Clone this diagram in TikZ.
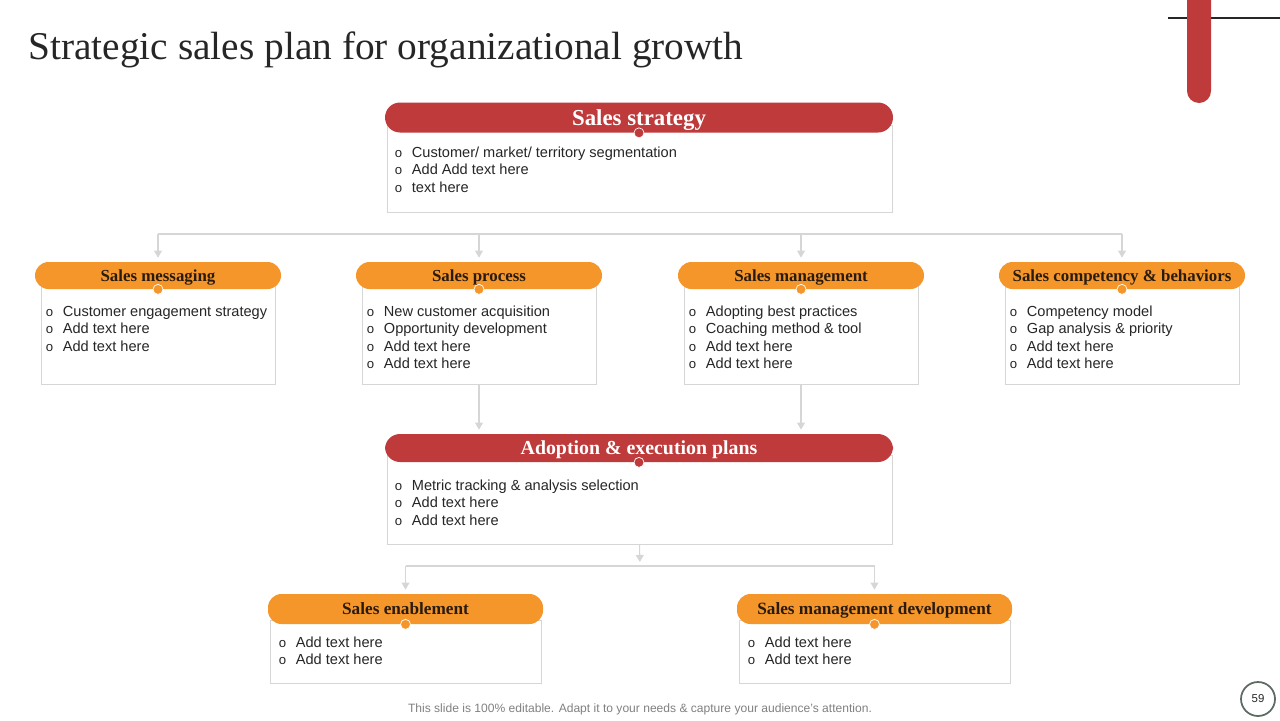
\documentclass[tikz,border=0pt]{standalone}
\usepackage{fontspec}
\setmainfont{Liberation Serif}
\setsansfont{Liberation Sans}
\usetikzlibrary{shapes,arrows.meta,positioning,fit}
\definecolor{brick}{HTML}{BE3A3B}
\definecolor{amber}{HTML}{F4962A}
\definecolor{rule}{HTML}{D6D6D6}
\definecolor{ink}{HTML}{262626}
\definecolor{umber}{HTML}{2A1B10}
\definecolor{ring}{HTML}{5E6B62}
\def \px {0.02cm}
\tikzstyle{banner} = [rectangle,rounded corners=0.3cm,fill=brick,text=white,inner sep=0,text depth=0pt,font=\bfseries\fontsize{13}{15}\selectfont,minimum width=508*\px,minimum height=30*\px]
\tikzstyle{tab} = [rectangle,rounded corners=0.27cm,fill=amber,text=umber,inner sep=0,text depth=0pt,font=\bfseries\fontsize{9.6}{11}\selectfont,minimum width=246*\px,minimum height=27*\px]
\tikzstyle{card} = [draw=rule,line width=0.5pt,fill=white,rectangle,inner sep=0]
\tikzstyle{list} = [anchor=north west,inner sep=0,align=left,text=ink,font=\sffamily\fontsize{8.3}{9.95}\selectfont]
\tikzstyle{pin} = [circle,draw=white,line width=0.4pt,inner sep=0,minimum size=10*\px]
\tikzstyle{link} = [draw=rule,line width=0.6pt]
\tikzstyle{arrow} = [link,-{Triangle[length=4pt,width=4.5pt]},shorten >=0.08cm]
\newcommand\itm[1]{\makebox[0.34cm][l]{\fontsize{7.5}{7.5}\selectfont o}#1\\}

\begin{document}
\begin{tikzpicture}[x=\px,y=-\px]
      \useasboundingbox (0,0) rectangle (1280,720);
      \draw[ink,line width=1.1pt] (1168,18) -- (1280,18);
      \fill[brick,rounded corners=0.24cm] (1187,-30) rectangle (1211,103);
      \node[anchor=base west,inner sep=0,text=ink,font=\fontsize{22.4}{26}\selectfont] (title) at (28,59) {Strategic sales plan for organizational growth};

      \node[card,minimum width=505*\px,minimum height=87*\px] (stratbox) at (639.5,168.5) {};
      \node[banner] (strat) at (639,117.5) {Sales strategy};
      \node[pin,fill=brick] at (strat.south) {};
      \node[list] at ([shift={(8,22)}]stratbox.north west) {\itm{Customer/ market/ territory segmentation}\itm{Add Add text here}\itm{text here}};

      \node[card,minimum width=234*\px,minimum height=99*\px] (msgbox) at (158,334.5) {};
      \node[tab] (msg) at (158,275.5) {Sales messaging};
      \node[pin,fill=amber] at (msg.south) {};
      \node[list] at ([shift={(5,21)}]msgbox.north west) {\itm{Customer engagement strategy}\itm{Add text here}\itm{Add text here}};

      \node[card,minimum width=234*\px,minimum height=99*\px] (procbox) at (479,334.5) {};
      \node[tab] (proc) at (479,275.5) {Sales process};
      \node[pin,fill=amber] at (proc.south) {};
      \node[list] at ([shift={(5,21)}]procbox.north west) {\itm{New customer acquisition}\itm{Opportunity development}\itm{Add text here}\itm{Add text here}};

      \node[card,minimum width=234*\px,minimum height=99*\px] (mgmtbox) at (801,334.5) {};
      \node[tab] (mgmt) at (801,275.5) {Sales management};
      \node[pin,fill=amber] at (mgmt.south) {};
      \node[list] at ([shift={(5,21)}]mgmtbox.north west) {\itm{Adopting best practices}\itm{Coaching method \& tool}\itm{Add text here}\itm{Add text here}};

      \node[card,minimum width=234*\px,minimum height=99*\px] (compbox) at (1122,334.5) {};
      \node[tab] (comp) at (1122,275.5) {Sales competency \& behaviors};
      \node[pin,fill=amber] at (comp.south) {};
      \node[list] at ([shift={(5,21)}]compbox.north west) {\itm{Competency model}\itm{Gap analysis \& priority}\itm{Add text here}\itm{Add text here}};

      \node[card,minimum width=505*\px,minimum height=89*\px] (adoptbox) at (639.5,499.5) {};
      \node[banner,minimum height=28*\px,font=\bfseries\fontsize{11.3}{13}\selectfont] (adopt) at (639,448) {Adoption \& execution plans};
      \node[pin,fill=brick] at (adopt.south) {};
      \node[list] at ([shift={(8,25)}]adoptbox.north west) {\itm{Metric tracking \& analysis selection}\itm{Add text here}\itm{Add text here}};

      \node[card,minimum width=271*\px,minimum height=63*\px] (enablebox) at (405.5,651.5) {};
      \node[tab,minimum width=275*\px,minimum height=30*\px,font=\bfseries\fontsize{9.8}{11}\selectfont] (enable) at (405.5,609) {Sales enablement};
      \node[pin,fill=amber] at (enable.south) {};
      \node[list] at ([shift={(9,17)}]enablebox.north west) {\itm{Add text here}\itm{Add text here}};

      \node[card,minimum width=271*\px,minimum height=63*\px] (mdevbox) at (874.5,651.5) {};
      \node[tab,minimum width=275*\px,minimum height=30*\px,font=\bfseries\fontsize{9.8}{11}\selectfont] (mdev) at (874.5,609) {Sales management development};
      \node[pin,fill=amber] at (mdev.south) {};
      \node[list] at ([shift={(9,17)}]mdevbox.north west) {\itm{Add text here}\itm{Add text here}};

      \coordinate (busA) at (640,234);
      \draw[link] (msg.north |- busA) -- (comp.north |- busA);
      \foreach \n in {msg,proc,mgmt,comp}
        \draw[arrow] (\n.north |- busA) -- (\n.north);
      \draw[arrow] (procbox.south) -- (procbox.south |- adopt.north);
      \draw[arrow] (mgmtbox.south) -- (mgmtbox.south |- adopt.north);
      \coordinate (busB) at (640,566);
      \draw[arrow] (adoptbox.south) -- (busB);
      \draw[link] (enable.north |- busB) -- (mdev.north |- busB);
      \foreach \n in {enable,mdev}
        \draw[arrow] (\n.north |- busB) -- (\n.north);

      \node[text=gray,font=\sffamily\fontsize{6.87}{8}\selectfont] (note) at (640,709) {This slide is 100\% editable. Adapt it to your needs \& capture your audience’s attention.};
      \node[circle,draw=ring,line width=1pt,minimum size=34*\px,inner sep=0,text=ink,font=\sffamily\fontsize{6.5}{8}\selectfont] (page) at (1258,699) {59};
    \end{tikzpicture}
\end{document}
